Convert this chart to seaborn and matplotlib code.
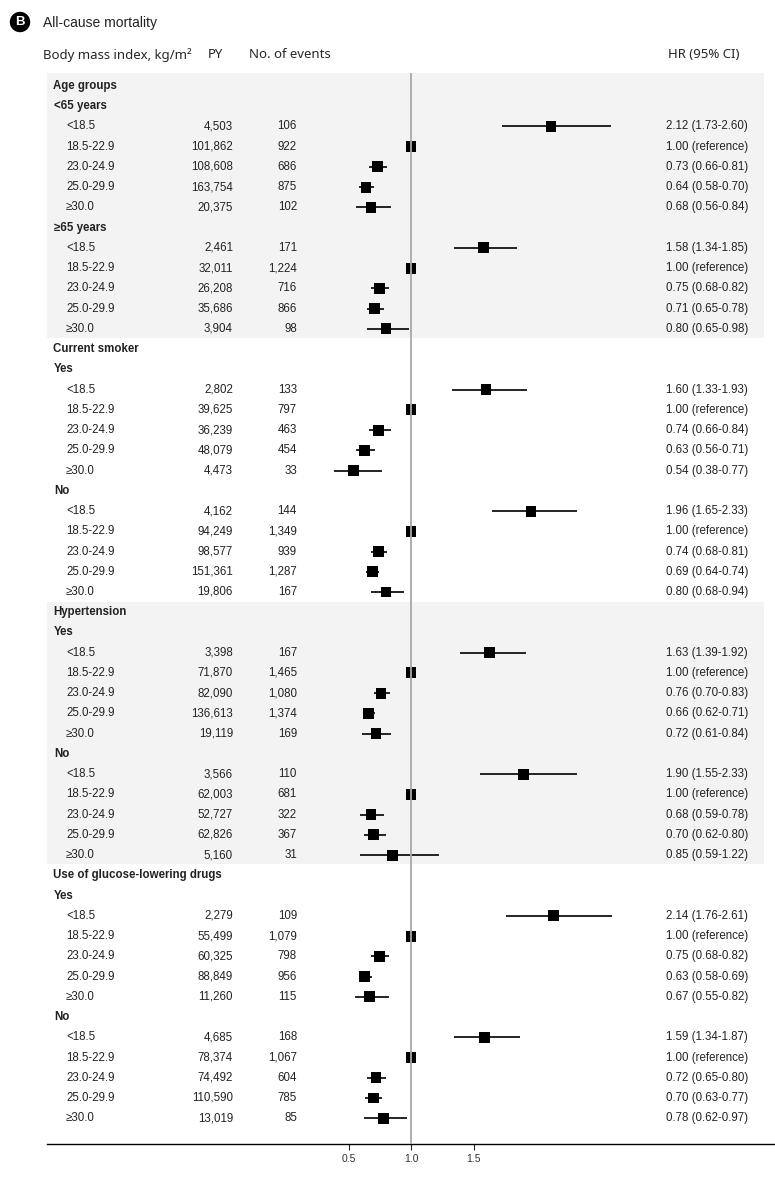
import numpy as np
import pandas as pd
import matplotlib.pyplot as plt
import matplotlib.transforms as mtransforms
import seaborn as sns

# BMI categories and subgroup structure
bmi_cats = ["<18.5", "18.5-22.9", "23.0-24.9", "25.0-29.9", "≥30.0"]
groups = ["Age groups", "Current smoker", "Hypertension", "Use of glucose-lowering drugs"]
subgroups = [["<65 years", "≥65 years"], ["Yes", "No"], ["Yes", "No"], ["Yes", "No"]]

# person-years, events, HR and CI, in order group > subgroup > BMI category
py = [4503, 101862, 108608, 163754, 20375,
      2461, 32011, 26208, 35686, 3904,
      2802, 39625, 36239, 48079, 4473,
      4162, 94249, 98577, 151361, 19806,
      3398, 71870, 82090, 136613, 19119,
      3566, 62003, 52727, 62826, 5160,
      2279, 55499, 60325, 88849, 11260,
      4685, 78374, 74492, 110590, 13019]
events = [106, 922, 686, 875, 102,
          171, 1224, 716, 866, 98,
          133, 797, 463, 454, 33,
          144, 1349, 939, 1287, 167,
          167, 1465, 1080, 1374, 169,
          110, 681, 322, 367, 31,
          109, 1079, 798, 956, 115,
          168, 1067, 604, 785, 85]
hr = [2.12, 1.00, 0.73, 0.64, 0.68,
      1.58, 1.00, 0.75, 0.71, 0.80,
      1.60, 1.00, 0.74, 0.63, 0.54,
      1.96, 1.00, 0.74, 0.69, 0.80,
      1.63, 1.00, 0.76, 0.66, 0.72,
      1.90, 1.00, 0.68, 0.70, 0.85,
      2.14, 1.00, 0.75, 0.63, 0.67,
      1.59, 1.00, 0.72, 0.70, 0.78]
hr_lo = [1.73, 1.00, 0.66, 0.58, 0.56,
         1.34, 1.00, 0.68, 0.65, 0.65,
         1.33, 1.00, 0.66, 0.56, 0.38,
         1.65, 1.00, 0.68, 0.64, 0.68,
         1.39, 1.00, 0.70, 0.62, 0.61,
         1.55, 1.00, 0.59, 0.62, 0.59,
         1.76, 1.00, 0.68, 0.58, 0.55,
         1.34, 1.00, 0.65, 0.63, 0.62]
hr_hi = [2.60, 1.00, 0.81, 0.70, 0.84,
         1.85, 1.00, 0.82, 0.78, 0.98,
         1.93, 1.00, 0.84, 0.71, 0.77,
         2.33, 1.00, 0.81, 0.74, 0.94,
         1.92, 1.00, 0.83, 0.71, 0.84,
         2.33, 1.00, 0.78, 0.80, 1.22,
         2.61, 1.00, 0.82, 0.69, 0.82,
         1.87, 1.00, 0.80, 0.77, 0.97]

# build the row table
rows = []
k = 0
for g, subs in zip(groups, subgroups):
    rows.append(dict(kind="group", label=g))
    for s in subs:
        rows.append(dict(kind="sub", label=s))
        for c in bmi_cats:
            rows.append(dict(kind="data", label=c, py=py[k], ev=events[k],
                             hr=hr[k], lo=hr_lo[k], hi=hr_hi[k]))
            k += 1
df = pd.DataFrame(rows)
df["row"] = np.arange(len(df))
dat = df[df.kind == "data"]

sns.set_style("white")
plt.rcParams["font.family"] = ["Liberation Sans", "DejaVu Sans"]

W, H = 775, 1177
fig = plt.figure(figsize=(W / 100, H / 100), dpi=100)

# pixel layout
x_left, x_right = 47, 775
y_top, y_bot = 73, 1144
row0, row_h = 86, 20.24
x_one, px_per = 411, 125

ax = fig.add_axes([x_left / W, 1 - y_bot / H, (x_right - x_left) / W, (y_bot - y_top) / H])
ax.set_xlim(1 + (x_left - x_one) / px_per, 1 + (x_right - x_one) / px_per)
ax.set_ylim((y_bot - row0) / row_h, (y_top - row0) / row_h)

# shaded sections
shade_xmax = (764 - x_left) / (x_right - x_left)
ax.axhspan((y_top - row0) / row_h, 12.45, xmin=0, xmax=shade_xmax, color="#f3f3f3", lw=0, zorder=0)
ax.axhspan(25.5, 38.45, xmin=0, xmax=shade_xmax, color="#f3f3f3", lw=0, zorder=0)

# CIs and squares
ax.hlines(dat["row"], dat["lo"], dat["hi"], color="black", lw=1.2, zorder=2)
sns.scatterplot(data=dat, x="hr", y="row", marker="s", s=62, color="black",
                edgecolor="none", ax=ax, zorder=3, legend=False)
ax.axvline(1.0, color="#a8a8a8", lw=1.3, zorder=4)

ax.set_xlabel("")
ax.set_ylabel("")
ax.set_yticks([])
ax.set_xticks([0.5, 1.0, 1.5])
ax.set_xticklabels(["0.5", "1.0", "1.5"])
ax.tick_params(axis="x", direction="out", length=4, width=0.8, labelsize=7.5,
               labelcolor="#333333", pad=3, bottom=True)
for sp in ["top", "left", "right"]:
    ax.spines[sp].set_visible(False)
ax.spines["bottom"].set_color("black")
ax.spines["bottom"].set_linewidth(1.0)

# table text
tr = mtransforms.blended_transform_factory(fig.transFigure, ax.transData)
fs = 8.3
tc = "#222222"
for _, r in df.iterrows():
    y = r["row"]
    if r["kind"] == "group":
        ax.text(53 / W, y, r["label"], transform=tr, fontsize=fs, fontweight="bold",
                va="center", ha="left", color=tc)
    elif r["kind"] == "sub":
        ax.text(54 / W, y, r["label"], transform=tr, fontsize=fs, fontweight="bold",
                va="center", ha="left", color=tc)
    else:
        ax.text(66 / W, y, r["label"], transform=tr, fontsize=fs, va="center", ha="left", color=tc)
        ax.text(233 / W, y, f"{int(r['py']):,}", transform=tr, fontsize=fs, va="center",
                ha="right", color=tc)
        ax.text(297 / W, y, f"{int(r['ev']):,}", transform=tr, fontsize=fs, va="center",
                ha="right", color=tc)
        if r["hr"] == 1.0 and r["lo"] == 1.0:
            s = "1.00 (reference)"
        else:
            s = f"{r['hr']:.2f} ({r['lo']:.2f}-{r['hi']:.2f})"
        ax.text(748 / W, y, s, transform=tr, fontsize=fs, va="center", ha="right", color=tc)

# headers
hfam = ["Noto Sans", "DejaVu Sans"]
fig.text(43 / W, 1 - 55 / H, "Body mass index, kg/m²", fontsize=9.5, family=hfam, va="center")
fig.text(208 / W, 1 - 55 / H, "PY", fontsize=9.5, family=hfam, va="center")
fig.text(249 / W, 1 - 55 / H, "No. of events", fontsize=9.5, family=hfam, va="center")
fig.text(739 / W, 1 - 55 / H, "HR (95% CI)", fontsize=9.5, family=hfam, va="center", ha="right")

fig.text(20 / W, 1 - 22 / H, "B", fontsize=9.5, fontweight="bold", color="white",
         ha="center", va="center",
         bbox=dict(boxstyle="circle,pad=0.32", fc="black", ec="none"))
fig.text(43 / W, 1 - 23 / H, "All-cause mortality", fontsize=10,
         family=["Liberation Sans Narrow", "Liberation Sans"], va="center", color="#222222")

fig.savefig("out.png", dpi=100)
